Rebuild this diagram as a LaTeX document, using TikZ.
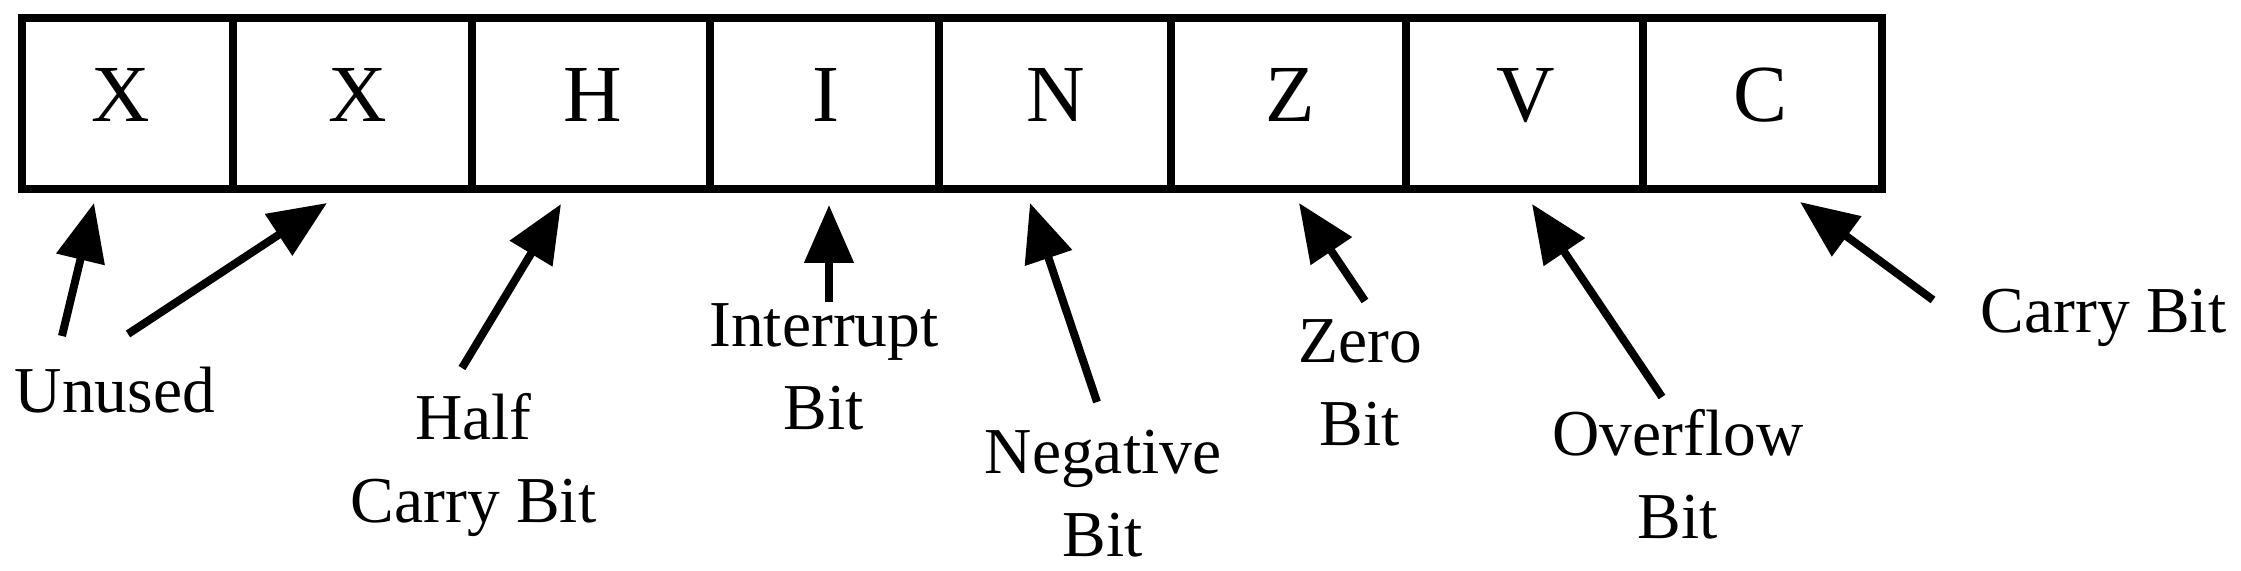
\documentclass[tikz,border=0pt]{standalone}
\usepackage{fontspec}
\setmainfont{Liberation Serif}
\usetikzlibrary{arrows.meta}
\begin{document}
\begin{tikzpicture}[x=0.5pt,y=-0.5pt,
  boxline/.style={line width=4pt},
  bitletter/.style={font=\fontsize{40.5}{40.5}\selectfont, anchor=base, inner sep=0pt},
  flaglabel/.style={font=\fontsize{32.75}{41.25}\selectfont, align=center, anchor=base, inner sep=0pt},
  pointer/.style={line width=4pt, -{Triangle[length=29pt,width=24pt]}}]
\useasboundingbox (0,0) rectangle (2241,571);
% register box
\draw[boxline] (22,18) rectangle (1882,189);
\foreach \x in {232.5,471.5,709.5,939,1171,1406,1643}
  \draw[boxline] (\x,18) -- (\x,189);
% bit letters
\node[bitletter] (b7) at (121,122) {X};
\node[bitletter] (b6) at (358,122) {X};
\node[bitletter] (b5) at (593,122) {H};
\node[bitletter] (b4) at (826,122) {I};
\node[bitletter] (b3) at (1056,122) {N};
\node[bitletter] (b2) at (1290,122) {Z};
\node[bitletter] (b1) at (1526,122) {V};
\node[bitletter] (b0) at (1760,122) {C};
% labels (anchor = baseline of last line)
\node[flaglabel] (lu) at (115,412) {Unused};
\node[flaglabel] (lh) at (473.5,522) {Half\\Carry Bit};
\node[flaglabel] (li) at (824,429) {Interrupt\\Bit};
\node[flaglabel] (ln) at (1103,556) {Negative\\Bit};
\node[flaglabel] (lz) at (1360,445) {Zero\\Bit};
\node[flaglabel] (lv) at (1678,538) {Overflow\\Bit};
\node[flaglabel] (lc) at (2103.5,333) {Carry Bit};
% arrow ends
\coordinate (tu1) at (62,336);   \coordinate (pu1) at (94,203);
\coordinate (tu2) at (128,334);  \coordinate (pu2) at (327,203);
\coordinate (th) at (462,368);   \coordinate (ph) at (561,204);
\coordinate (ti) at (829,302);   \coordinate (pi) at (829,205);
\coordinate (tn) at (1097,402);  \coordinate (pn) at (1030,203);
\coordinate (tz) at (1365,301);  \coordinate (pz) at (1299,203);
\coordinate (tv) at (1662,397);  \coordinate (pv) at (1532,204);
\coordinate (tc) at (1933,300);  \coordinate (pc) at (1800,202);
\draw[pointer] (tu1) -- (pu1);
\draw[pointer] (tu2) -- (pu2);
\draw[pointer] (th) -- (ph);
\draw[pointer] (ti) -- (pi);
\draw[pointer] (tn) -- (pn);
\draw[pointer] (tz) -- (pz);
\draw[pointer] (tv) -- (pv);
\draw[pointer] (tc) -- (pc);
\end{tikzpicture}
\end{document}
